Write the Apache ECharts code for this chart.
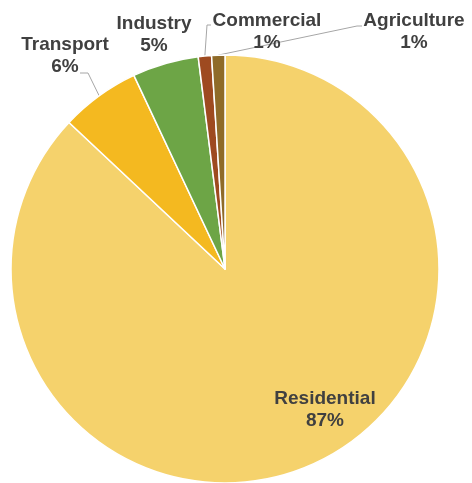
<!DOCTYPE html>
<html>
<head>
<meta charset="utf-8">
<script src="https://cdn.jsdelivr.net/npm/echarts@6/dist/echarts.min.js"></script>
<style>
  html, body { margin: 0; padding: 0; background: #fff; }
  #chart { width: 472px; height: 483px; }
</style>
</head>
<body>
<div id="chart"></div>
<script>
// Energy use by sector (share of total, %)
const sectors = ['Residential', 'Transport', 'Industry', 'Commercial', 'Agriculture'];
const shares = [87, 6, 5, 1, 1];
const sectorColors = ['#F5D26C', '#F4B920', '#6DA546', '#9E4A20', '#8F6B29'];

// Where each label block sits, and where its leader line bends
const labelPlacement = {
  Residential: { x: 325, y: 410, bend: null },
  Transport:   { x: 65,  y: 56,  bend: [[88, 73], [80, 73]] },
  Industry:    { x: 154, y: 35,  bend: null },
  Commercial:  { x: 267, y: 32,  bend: [[207, 25], [211, 25]] },
  Agriculture: { x: 414, y: 32,  bend: [[357, 26], [362, 26]] }
};

const chart = echarts.init(document.getElementById('chart'), null, { renderer: 'canvas' });

chart.setOption({
  animation: false,
  series: [{
    type: 'pie',
    center: [225, 269],
    radius: 214,
    startAngle: 90,
    clockwise: true,
    avoidLabelOverlap: false,
    itemStyle: { borderColor: '#ffffff', borderWidth: 1.5 },
    label: {
      show: true,
      position: 'outside',
      formatter: (p) => p.name + '\n' + Math.round(p.percent) + '%',
      fontFamily: 'Liberation Sans, Arial, sans-serif',
      fontWeight: 'bold',
      fontSize: 19,
      lineHeight: 22,
      color: '#404040',
      align: 'center'
    },
    labelLine: {
      show: true,
      lineStyle: { color: '#A6A6A6', width: 1 }
    },
    labelLayout: (params) => {
      const name = sectors[params.dataIndex];
      const place = labelPlacement[name];
      const out = { x: place.x, y: place.y, align: 'center', verticalAlign: 'middle' };
      if (place.bend && params.labelLinePoints) {
        out.labelLinePoints = [params.labelLinePoints[0]].concat(place.bend);
      }
      return out;
    },
    emphasis: { disabled: true },
    data: sectors.map((name, i) => ({
      name: name,
      value: shares[i],
      itemStyle: { color: sectorColors[i] },
      labelLine: { show: labelPlacement[name].bend !== null }
    }))
  }]
});
</script>
</body>
</html>
